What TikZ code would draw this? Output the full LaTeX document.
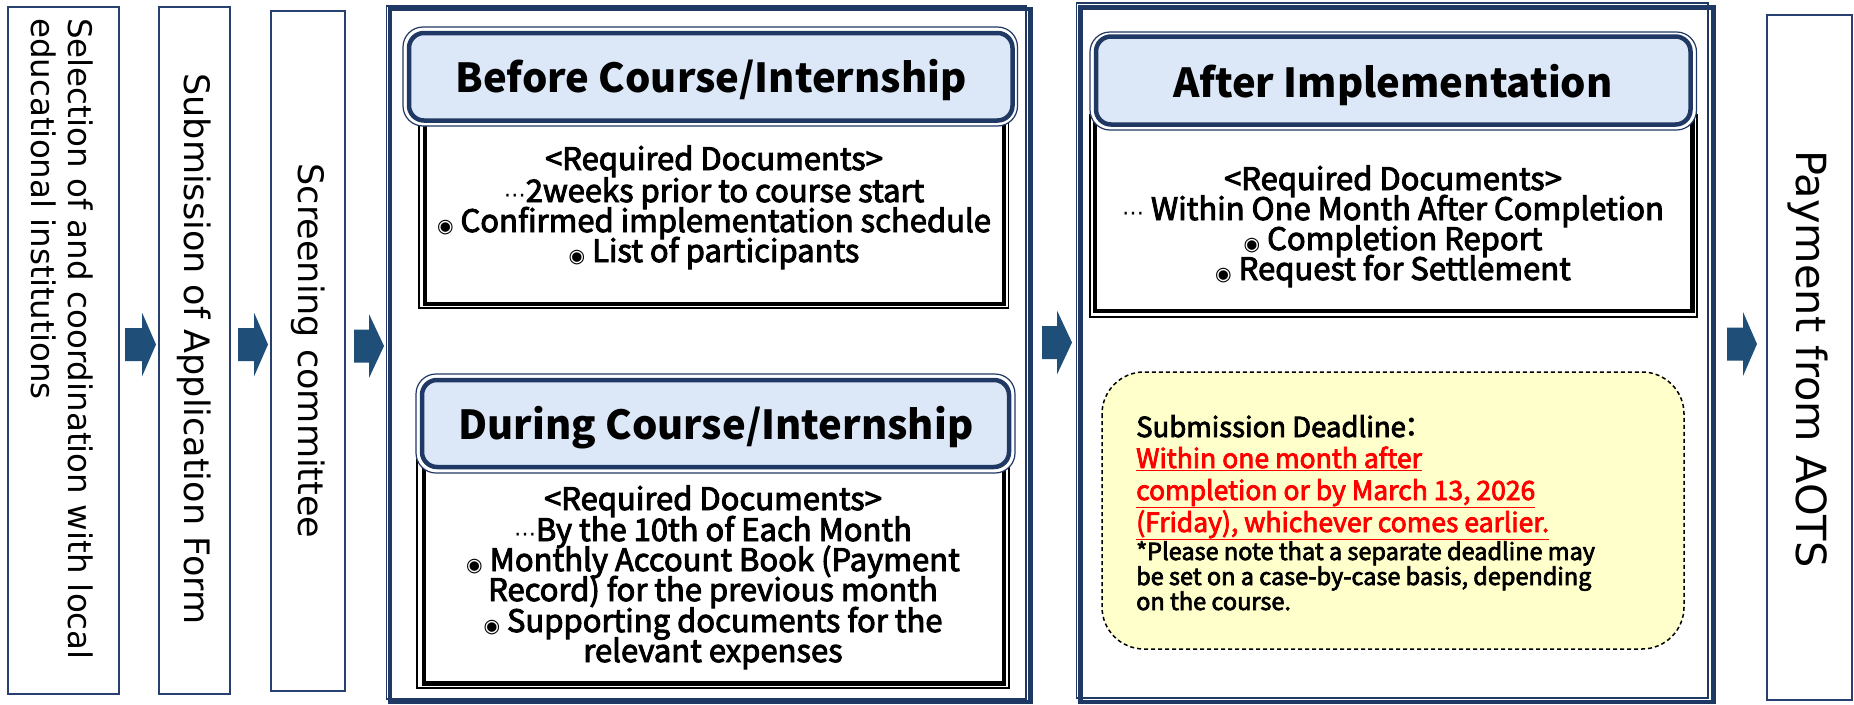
\documentclass[tikz,border=0pt]{standalone}
\usepackage{fontspec}
\newfontfamily\jpf{Noto Sans CJK JP}
\newfontfamily\jpm{Noto Sans CJK JP}[FakeBold=3]
\newfontfamily\sidef{DejaVu Sans}
\newfontfamily\symf{DejaVu Sans}
\newcommand\bul{{\symf\fontsize{19}{19}\selectfont ◉}}
\newcommand\midell{{\symf\fontsize{22}{22}\selectfont ⋯}}
\definecolor{navy}{RGB}{32,56,100}
\definecolor{sidenavy}{RGB}{40,64,112}
\definecolor{hdrfill}{RGB}{220,232,248}
\definecolor{arrowc}{RGB}{31,78,121}
\definecolor{yel}{RGB}{255,255,204}
\newcommand\blockarr[4]{\fill[arrowc] (#1,#4-16.5) -- (#2,#4-16.5) -- (#2,#4-32) -- (#3,#4) -- (#2,#4+32) -- (#2,#4+16.5) -- (#1,#4+16.5) -- cycle;}
\tikzset{
  sidebox/.style={draw=sidenavy, line width=1.6pt, fill=white, inner sep=0pt},
  sidetxt/.style={font=\sidef\fontsize{35}{37}\selectfont, rotate=-90, inner sep=0pt},
  hdrtxt/.style={font=\jpf\bfseries\fontsize{40}{42}\selectfont, anchor=base, inner sep=0pt},
  bodytxt/.style={font=\jpm\fontsize{31}{32}\selectfont, anchor=base, inner sep=0pt},
  ytxt/.style={font=\jpm\fontsize{27.5}{30}\selectfont, anchor=base west, inner sep=0pt},
  redtxt/.style={font=\jpm\fontsize{26.5}{30}\selectfont, anchor=base west, inner sep=0pt, text=red},
  notetxt/.style={font=\jpm\fontsize{23.5}{25}\selectfont, anchor=base west, inner sep=0pt},
  thinnavy/.style={draw=navy, line width=1.2pt},
  thicknavy/.style={draw=navy, line width=4.5pt},
  hdrout/.style={draw=navy, line width=1.2pt, fill=white, rounded corners=20pt},
  hdrin/.style={draw=navy, line width=4.5pt, fill=hdrfill, rounded corners=15pt},
  bodyout/.style={draw=black, line width=1.2pt, fill=white},
  bodyin/.style={draw=black, line width=4.5pt},
}
\begin{document}
\begin{tikzpicture}[x=1pt,y=-1pt]
\useasboundingbox (0,0) rectangle (1854,704);
\fill[white] (0,0) rectangle (1854,704);

% side boxes
\node[sidebox, minimum width=111pt, minimum height=687pt] (b1) at (63.5,350.5) {};
\node[sidetxt, font=\sidef\fontsize{32.5}{37}\selectfont, align=left, anchor=west] (t1) at (62,18)
  {Selection of and coordination with local\\educational institutions};
\node[sidebox, minimum width=71pt, minimum height=687pt] (b2) at (194.5,350.5) {};
\node[sidetxt] (t2) at (194.5,349) {Submission of Application Form};
\node[sidebox, minimum width=74pt, minimum height=680pt] (b3) at (308,351) {};
\node[sidetxt] (t3) at (308,351) {Screening committee};
\node[sidebox, minimum width=85pt, minimum height=685pt] (pay) at (1809.5,357.5) {};
\node[sidetxt, font=\sidef\fontsize{41.5}{44}\selectfont] (tp) at (1808,359) {Payment from AOTS};

% block arrows
\blockarr{125}{142}{156}{344.5}
\blockarr{238}{254}{268}{344.5}
\blockarr{354}{369}{384}{346}
\blockarr{1042}{1057}{1072}{342.5}
\blockarr{1727}{1743}{1757}{344}

% panel 1
\draw[thinnavy] (386.5,6) rectangle (1026,699);
\draw[thicknavy] (390,9) rectangle (1030.5,702);
% panel 2
\draw[thinnavy] (1076.5,3) rectangle (1708,698);
\draw[thicknavy] (1080.5,7.5) rectangle (1713.5,702);

% Before
\draw[bodyout] (419,110) rectangle (1008.5,308);
\draw[bodyin] (425,110) rectangle (1004,304);
\draw[hdrout] (403,27) rectangle (1017.5,126);
\draw[hdrin] (409,33) rectangle (1012.5,120.5);
\node[hdrtxt] (h1) at (711,92) {Before Course/Internship};
\node[bodytxt] (a1) at (714,170) {<Required Documents>};
\node[bodytxt] (a2) at (714,202) {\midell 2weeks prior to course start};
\node[bodytxt] (a3) at (714,232) {\bul\ Confirmed implementation schedule};
\node[bodytxt] (a4) at (714,262) {\bul\ List of participants};

% During
\draw[bodyout] (417,460) rectangle (1009,688);
\draw[bodyin] (424,460) rectangle (1004,683.5);
\draw[hdrout] (416,374) rectangle (1015,473);
\draw[hdrin] (422,380) rectangle (1009,467);
\node[hdrtxt] (h2) at (716,439) {During Course/Internship};
\node[bodytxt] (c1) at (713,510) {<Required Documents>};
\node[bodytxt] (c2) at (713,541) {\midell By the 10th of Each Month};
\node[bodytxt] (c3) at (713,571) {\bul\ Monthly Account Book (Payment};
\node[bodytxt] (c4) at (713,601) {Record) for the previous month};
\node[bodytxt] (c5) at (713,632) {\bul\ Supporting documents for the};
\node[bodytxt] (c6) at (713,662) {relevant expenses};

% After
\draw[bodyout] (1090,115) rectangle (1697,317);
\draw[bodyin] (1095,115) rectangle (1692.5,311);
\draw[hdrout] (1090,32) rectangle (1696.5,130);
\draw[hdrin] (1096,36.5) rectangle (1690.5,124.5);
\node[hdrtxt] (h3) at (1393,97) {After Implementation};
\node[bodytxt] (e1) at (1393,190) {<Required Documents>};
\node[bodytxt] (e2) at (1393,220) {\midell\ Within One Month After Completion};
\node[bodytxt] (e3) at (1393,250) {\bul\ Completion Report};
\node[bodytxt] (e4) at (1393,280) {\bul\ Request for Settlement};

% deadline box
\draw[draw=black, line width=1.5pt, dash pattern=on 4pt off 3pt, fill=yel, rounded corners=42pt] (1102,372) rectangle (1684,649);
\node[ytxt] (y1) at (1136,437) {Submission Deadline\kern-0.3em：};
\node[redtxt] (y2) at (1136,468) {\underline{Within one month after}};
\node[redtxt] (y3) at (1136,500) {\underline{completion or by March 13, 2026}};
\node[redtxt] (y4) at (1136,532) {\underline{(Friday), whichever comes earlier.}};
\node[notetxt] (n1) at (1136,560) {*Please note that a separate deadline may};
\node[notetxt] (n2) at (1136,585) {be set on a case-by-case basis, depending};
\node[notetxt] (n3) at (1136,610) {on the course.};
\end{tikzpicture}
\end{document}
